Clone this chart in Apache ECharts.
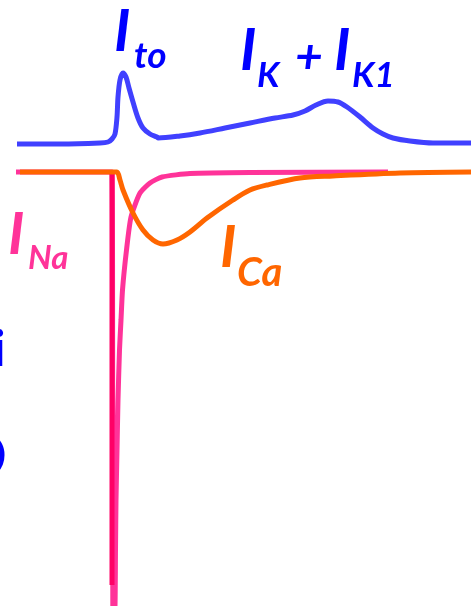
<!DOCTYPE html>
<html>
<head>
<meta charset="utf-8">
<script src="https://cdn.jsdelivr.net/npm/echarts@6/dist/echarts.min.js"></script>
<style>
  html, body { margin: 0; padding: 0; background: #ffffff; }
  #chart { width: 471px; height: 606px; }
</style>
</head>
<body>
<div id="chart"></div>
<script>
// Schematic ionic currents during a ventricular action potential.
// Time in ms (0 = upstroke), current in arbitrary units (inward negative).

// Outward potassium currents: transient I_to spike, then I_K + I_K1 hump
const outwardTime = [-95, -52, -12, -4, 0, 3, 5, 6, 8, 11, 14, 17, 21, 26, 31, 38, 45,
                     46, 68, 88, 113, 138, 163, 181, 193, 204, 216, 226, 235, 248, 261, 271, 281, 298, 321, 359];
const outwardCurrent = [2.8, 2.8, 2.9, 3.0, 3.3, 3.8, 5.5, 7.5, 9.2, 9.9, 9.5, 8.4, 7.0, 5.4, 4.4, 3.8, 3.5,
                        3.4, 3.6, 3.9, 4.4, 4.9, 5.4, 5.7, 6.1, 6.7, 7.1, 7.0, 6.5, 5.5, 4.4, 3.8, 3.4, 3.1, 2.9, 2.9];

// Fast sodium current I_Na
const naTime = [-96, 0, 1, 3, 3.5, 4, 5, 6, 7.5, 9, 10.5, 14.5, 19, 28, 38, 50, 78, 138, 276];
const naCurrent = [0, 0, -46.8, -43.4, -37.8, -32.8, -27.8, -22.8, -17.8, -14.8, -11.8, -7.8, -4.5, -2.1, -1.1, -0.5, -0.15, -0.05, 0];

// Upstroke of I_Na
const naUpTime = [0, 0];
const naUpCurrent = [0, -41.3];

// L-type calcium current I_Ca
const caTime = [-92, -40, 0, 5, 8, 11, 21, 31, 41, 51, 65, 78, 95, 121, 138, 155, 188, 221, 288, 359];
const caCurrent = [0, 0, 0, 0, -0.8, -1.8, -4.1, -5.8, -6.8, -7.2, -6.8, -6.0, -4.6, -2.8, -1.8, -1.3, -0.6, -0.4, -0.1, 0];

const pairs = (xs, ys) => xs.map((x, i) => [x, ys[i]]);

const FONT = 'Lato, "Open Sans", sans-serif';
const label = (text, x, y, size, color, style) => ({
  type: 'text',
  x: x, y: y, z: 100,
  style: {
    text: text,
    font: (style || 'italic') + ' bold ' + size + 'px ' + FONT,
    fill: color,
    textVerticalAlign: 'bottom'
  }
});

const BLUE = '#0000ff', PINK = '#ff3399', ORANGE = '#ff6600';

const chart = echarts.init(document.getElementById('chart'), null, { renderer: 'canvas' });
chart.setOption({
  animation: false,
  backgroundColor: '#ffffff',
  grid: { left: 0, right: 0, top: 0, bottom: 0 },
  xAxis: { type: 'value', min: -112, max: 359, show: false },
  yAxis: { type: 'value', min: -43.4, max: 17.2, show: false },
  series: [
    {
      name: 'I_Na', type: 'line', data: pairs(naTime, naCurrent),
      showSymbol: false, smooth: 0.2, z: 2,
      lineStyle: { color: '#ff3399', width: 5 }
    },
    {
      name: 'I_Na upstroke', type: 'line', data: pairs(naUpTime, naUpCurrent),
      showSymbol: false, z: 3,
      lineStyle: { color: '#ff0066', width: 5 }
    },
    {
      name: 'I_Ca', type: 'line', data: pairs(caTime, caCurrent),
      showSymbol: false, smooth: 0.3, z: 4,
      lineStyle: { color: '#ff6600', width: 5 }
    },
    {
      name: 'I_to + I_K + I_K1', type: 'line', data: pairs(outwardTime, outwardCurrent),
      showSymbol: false, smooth: 0.3, z: 5,
      lineStyle: { color: '#4040ff', width: 5 }
    }
  ],
  graphic: [
    label('I', 114, 61, 58, BLUE),
    label('to', 134, 75, 37, BLUE),
    label('I', 240, 80, 58, BLUE),
    label('K', 257, 93, 35, BLUE),
    label('+', 295, 82, 48, BLUE),
    label('I', 334, 80, 58, BLUE),
    label('K1', 352, 93, 35, BLUE),
    label('I', 8, 264, 58, PINK),
    label('Na', 28, 275, 33, PINK),
    label('I', 220, 277, 58, ORANGE),
    label('Ca', 237, 293, 40, ORANGE),
    label('i', -7, 375, 49, BLUE, 'normal'),
    label('O', -44, 489, 63, BLUE, 'normal')
  ]
});
</script>
</body>
</html>
